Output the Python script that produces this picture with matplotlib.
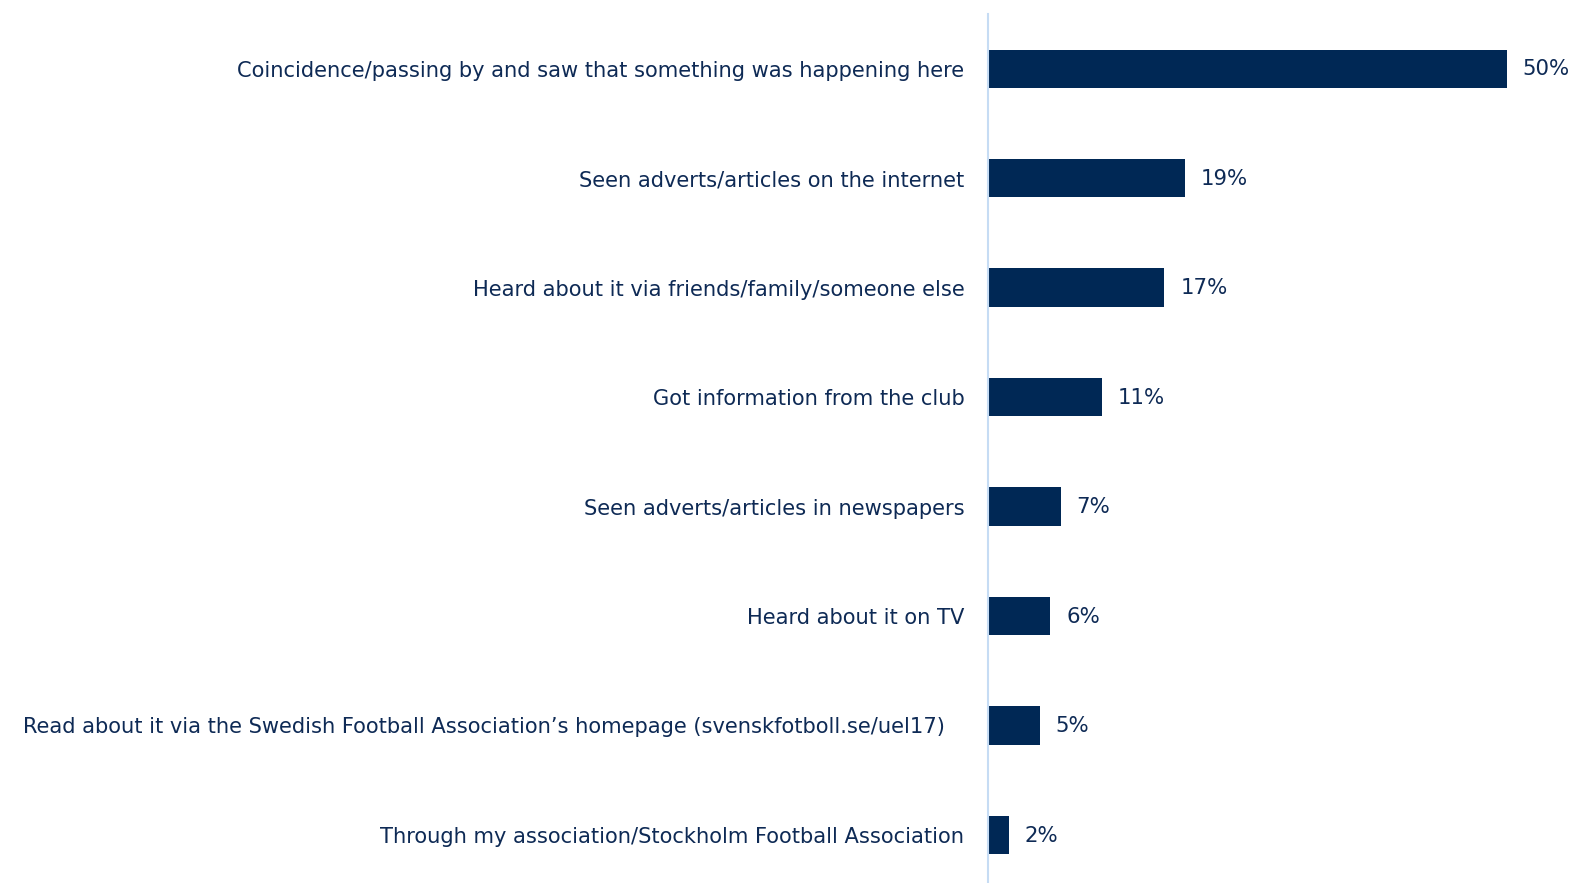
import matplotlib
matplotlib.use("Agg")
import matplotlib.pyplot as plt

# survey answers, top to bottom
categories = [
    "Coincidence/passing by and saw that something was happening here",
    "Seen adverts/articles on the internet",
    "Heard about it via friends/family/someone else",
    "Got information from the club",
    "Seen adverts/articles in newspapers",
    "Heard about it on TV",
    "Read about it via the Swedish Football Association\u2019s homepage (svenskfotboll.se/uel17)   ",
    "Through my association/Stockholm Football Association",
]
values = [50, 19, 17, 11, 7, 6, 5, 2]
value_labels = ["50%", "19%", "17%", "11%", "7%", "6%", "5%", "2%"]

bar_color = "#002855"
text_color = "#0e2a55"
axis_color = "#c6dcf4"

plt.rcParams["font.family"] = ["DejaVu Sans"]

fig = plt.figure(figsize=(15.75, 8.83), dpi=100)
ax = fig.add_axes([988 / 1575, 0, 1 - 988 / 1575, 1 - 14 / 883])

y = list(range(len(categories)))
ax.barh(y, values, height=0.35, color=bar_color, zorder=2)

for yi, v, lab in zip(y, values, value_labels):
    ax.annotate(lab, (v, yi), xytext=(11.5, -0.5), textcoords="offset points",
                va="center", ha="left", fontsize=15.3, color=text_color)

ax.set_yticks(y)
ax.set_yticklabels(categories, fontsize=15.1, color=text_color)
ax.tick_params(axis="y", length=0, pad=17)
ax.set_xticks([])
ax.set_xlim(0, 56.6)
ax.set_ylim(7.44, -0.5)

for s in ["top", "right", "bottom"]:
    ax.spines[s].set_visible(False)
ax.spines["left"].set_color(axis_color)
ax.spines["left"].set_linewidth(1.5)

fig.savefig("out.png", dpi=100)
